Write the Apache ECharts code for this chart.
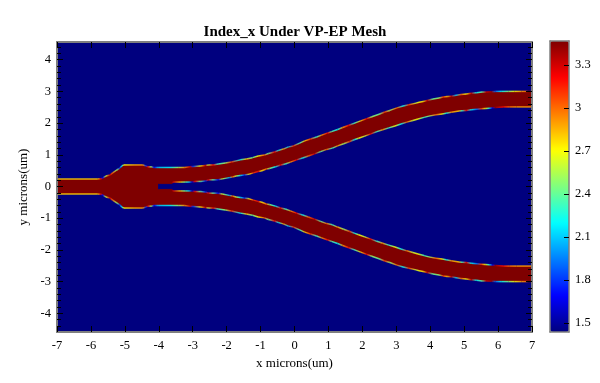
<!DOCTYPE html>
<html>
<head>
<meta charset="utf-8">
<script src="https://cdn.jsdelivr.net/npm/echarts@6/dist/echarts.min.js"></script>
<style>
	html, body { margin: 0; padding: 0; background: #fff; }
	#chart { width: 600px; height: 383px; }
</style>
</head>
<body>
<div id="chart"></div>
<script>
// upper arm outer edge: x, y (um) and index along the edge
var outerX = [-7, -5.80, -5.71, -5.65, -5.56, -5.44, -5.36, -5.24, -5.15, -5.09, -5.03, -4.73, -4.47, -4.38, -4.32, -4.23, -4.14, -4.02, -3.67, -3.43, -3.25, -3.08, -2.99, -2.78, -2.63, -2.54, -2.40, -2.25, -2.04, -1.86, -1.60, -1.42, -1.24, -1.07, -0.89, -0.77, -0.59, -0.47, -0.33, -0.18, -0.03, 0.15, 0.30, 0.47, 0.65, 0.80, 0.98, 1.09, 1.27, 1.42, 1.60, 1.75, 1.95, 2.13, 2.28, 2.49, 2.66, 2.81, 3.02, 3.20, 3.37, 3.58, 3.67, 3.79, 3.91, 4.08, 4.26, 4.38, 4.50, 4.62, 4.76, 4.91, 5.06, 5.21, 5.36, 5.53, 5.65, 5.80, 5.92, 6.09, 6.30, 6.48, 6.69, 6.83, 6.89, 7];
var outerY = [0.24, 0.24, 0.24, 0.27, 0.33, 0.36, 0.43, 0.52, 0.58, 0.65, 0.68, 0.68, 0.68, 0.65, 0.62, 0.62, 0.60, 0.60, 0.60, 0.60, 0.60, 0.62, 0.63, 0.65, 0.66, 0.68, 0.68, 0.71, 0.74, 0.77, 0.84, 0.87, 0.91, 0.96, 0.99, 1.04, 1.09, 1.14, 1.18, 1.25, 1.28, 1.37, 1.44, 1.50, 1.56, 1.62, 1.69, 1.73, 1.80, 1.86, 1.93, 1.99, 2.07, 2.14, 2.20, 2.28, 2.35, 2.40, 2.48, 2.54, 2.58, 2.63, 2.66, 2.68, 2.71, 2.76, 2.79, 2.82, 2.84, 2.85, 2.88, 2.90, 2.92, 2.94, 2.96, 2.98, 2.98, 2.99, 3.00, 3.00, 3.00, 3.00, 3.00, 3.00, 3.00, 3.00];
var outerIndex = [2.8, 2.8, 3.2, 1.7, 2.6, 3.3, 3.0, 2.5, 1.8, 2.2, 2.7, 2.85, 2.9, 1.8, 3.2, 2.5, 1.7, 2.1, 2.2, 2.5, 2.9, 3.3, 1.8, 2.7, 3.3, 2.6, 3.2, 2.3, 2.5, 3.1, 2.2, 2.8, 2.4, 2.7, 3.0, 2.4, 3.2, 2.2, 2.9, 2.1, 3.1, 2.3, 2.8, 3.1, 2.3, 2.9, 3.2, 2.4, 2.2, 2.9, 3.2, 2.3, 2.8, 3.2, 2.5, 2.4, 3.1, 2.5, 3.0, 2.2, 3.1, 2.6, 2.7, 2.75, 3.3, 2.4, 2.5, 3.1, 2.8, 3.3, 2.1, 3.0, 2.7, 3.3, 2.2, 2.4, 3.3, 3.4, 1.9, 2.2, 2.45, 2.7, 2.9, 3.0, 3.47, 3.47];

// upper arm inner edge, starting at the notch
var innerX = [-4.02, -3.61, -3.58, -3.37, -3.22, -3.11, -3.02, -2.93, -2.78, -2.63, -2.54, -2.40, -2.25, -2.13, -1.92, -1.83, -1.72, -1.60, -1.48, -1.33, -1.21, -1.07, -0.98, -0.83, -0.74, -0.56, -0.41, -0.27, -0.12, 0.06, 0.24, 0.41, 0.59, 0.77, 0.95, 1.12, 1.27, 1.45, 1.63, 1.78, 1.89, 2.07, 2.25, 2.43, 2.60, 2.78, 2.96, 3.14, 3.31, 3.49, 3.64, 3.82, 3.96, 4.17, 4.35, 4.47, 4.62, 4.85, 4.94, 5.06, 5.21, 5.38, 5.50, 5.62, 5.74, 5.83, 5.92, 6.15, 6.33, 6.54, 7];
var innerY = [0.10, 0.10, 0.14, 0.14, 0.14, 0.14, 0.14, 0.16, 0.16, 0.17, 0.21, 0.21, 0.21, 0.24, 0.28, 0.30, 0.33, 0.35, 0.36, 0.39, 0.43, 0.47, 0.49, 0.55, 0.57, 0.62, 0.68, 0.71, 0.77, 0.84, 0.90, 0.96, 1.03, 1.10, 1.17, 1.21, 1.28, 1.35, 1.42, 1.48, 1.52, 1.59, 1.66, 1.73, 1.79, 1.85, 1.91, 1.97, 2.03, 2.08, 2.13, 2.18, 2.22, 2.26, 2.29, 2.31, 2.34, 2.38, 2.39, 2.40, 2.42, 2.44, 2.45, 2.46, 2.47, 2.48, 2.49, 2.51, 2.51, 2.51, 2.51];
var innerIndex = [3.47, 3.47, 3.3, 2.8, 2.4, 2.1, 1.6, 3.2, 2.4, 1.8, 3.2, 2.4, 1.7, 2.6, 2.1, 3.0, 2.6, 2.2, 1.8, 2.7, 3.1, 3.2, 2.7, 3.0, 2.5, 2.2, 3.2, 2.3, 2.9, 3.2, 2.2, 3.0, 3.3, 2.4, 3.0, 2.3, 2.9, 2.5, 3.1, 2.2, 2.7, 2.6, 3.2, 2.3, 2.9, 2.3, 2.7, 2.2, 3.0, 2.6, 2.7, 2.3, 2.5, 3.0, 2.7, 2.2, 2.9, 2.8, 2.3, 3.2, 2.2, 1.9, 3.1, 2.7, 2.2, 1.7, 3.4, 3.2, 3.0, 2.9, 2.9];

var xTicks = [-7, -6, -5, -4, -3, -2, -1, 0, 1, 2, 3, 4, 5, 6, 7];
var yTicks = [-4, -3, -2, -1, 0, 1, 2, 3, 4];
var yMinorTicks = [-4.4, -4.2, -3.8, -3.6, -3.4, -3.2, -2.8, -2.6, -2.4, -2.2, -1.8, -1.6, -1.4, -1.2, -0.8, -0.6, -0.4, -0.2, 0.2, 0.4, 0.6, 0.8, 1.2, 1.4, 1.6, 1.8, 2.2, 2.4, 2.6, 2.8, 3.2, 3.4, 3.6, 3.8, 4.2, 4.4];
var colorbarTicks = [1.5, 1.8, 2.1, 2.4, 2.7, 3, 3.3];
var indexMin = 1.437;
var indexMax = 3.467;
var jetColors = ['#00007f', '#0000ff', '#007fff', '#00ffff', '#7fff7f', '#ffff00', '#ff7f00', '#ff0000', '#7f0000'];

var serif = 'Liberation Serif';
var yMin = -4.59;
var yMax = 4.558;

function indexColor(value) {
	var t = (value - indexMin) / (indexMax - indexMin);
	return echarts.color.lerp(Math.max(0, Math.min(1, t)), jetColors);
}

// one row per edge piece: x0, y0, x1, y1, index0, index1
function edgeRows(xs, ys, index) {
	var rows = [];
	for(var i = 0; i < xs.length - 1; i++) {
		rows.push([xs[i], ys[i], xs[i + 1], ys[i + 1], index[i], index[i + 1]]);
		rows.push([xs[i], -ys[i], xs[i + 1], -ys[i + 1], index[i], index[i + 1]]);
	}
	return rows;
}

function renderEdge(params, api) {
	var a = api.coord([api.value(0), api.value(1)]);
	var b = api.coord([api.value(2), api.value(3)]);
	return {
		type: 'line',
		shape: { x1: a[0], y1: a[1], x2: b[0], y2: b[1] },
		style: {
			fill: null,
			lineWidth: 1.5,
			opacity: 0.85,
			stroke: new echarts.graphic.LinearGradient(a[0], a[1], b[0], b[1], [
				{ offset: 0, color: indexColor(api.value(4)) },
				{ offset: 1, color: indexColor(api.value(5)) }
			], true)
		}
	};
}

// the whole splitter is one outline: upper arm, notch, lower arm
function renderGuide(params, api) {
	var points = [];
	var i;
	for(i = 0; i < outerX.length; i++) points.push(api.coord([outerX[i], outerY[i]]));
	for(i = innerX.length - 1; i >= 0; i--) points.push(api.coord([innerX[i], innerY[i]]));
	for(i = 0; i < innerX.length; i++) points.push(api.coord([innerX[i], -innerY[i]]));
	for(i = outerX.length - 1; i >= 0; i--) points.push(api.coord([outerX[i], -outerY[i]]));
	return {
		type: 'polygon',
		shape: { points: points },
		style: { fill: indexColor(indexMax) }
	};
}

function frameX(position, ticks, showLabels, name) {
	return {
		type: 'value',
		gridIndex: 0,
		position: position,
		min: -7,
		max: 7,
		z: 5,
		name: name,
		nameLocation: 'middle',
		nameGap: 22,
		nameTextStyle: { fontFamily: serif, fontSize: 13, color: '#000' },
		splitLine: { show: false },
		axisLine: { onZero: false, lineStyle: { color: '#7f7f7f', width: 2 } },
		axisTick: { inside: true, length: 6, customValues: ticks, lineStyle: { color: '#000' } },
		axisLabel: { show: showLabels, customValues: ticks, margin: 7, fontFamily: serif, fontSize: 12.5, color: '#000' }
	};
}

function frameY(position, ticks, length, showLabels, name) {
	return {
		type: 'value',
		gridIndex: 0,
		position: position,
		min: yMin,
		max: yMax,
		z: 5,
		name: name,
		nameLocation: 'middle',
		nameGap: 12,
		nameTextStyle: { fontFamily: serif, fontSize: 13, color: '#000' },
		splitLine: { show: false },
		axisLine: { onZero: false, lineStyle: { color: '#7f7f7f', width: 2 } },
		axisTick: { inside: true, length: length, customValues: ticks, lineStyle: { color: '#000' } },
		axisLabel: { show: showLabels, customValues: ticks, margin: 6, fontFamily: serif, fontSize: 12.5, color: '#000' }
	};
}

var mychart = echarts.init(document.getElementById('chart'));
var option = {
	animation: false,
	backgroundColor: '#fff',
	title: {
		text: 'Index_x Under VP-EP Mesh',
		left: 290,
		top: 20,
		textAlign: 'center',
		textStyle: { fontFamily: serif, fontSize: 15, fontWeight: 'bold', color: '#000' }
	},
	grid: [
		{ left: 57, top: 42, width: 475, height: 290, show: true, backgroundColor: indexColor(indexMin), borderWidth: 0 },
		{ left: 550, top: 41, width: 19, height: 291, show: false }
	],
	xAxis: [
		frameX('bottom', xTicks, true, 'x microns(um)'),
		frameX('top', xTicks, false, ''),
		{
			type: 'value',
			gridIndex: 1,
			position: 'bottom',
			min: 0,
			max: 1,
			z: 5,
			splitLine: { show: false },
			axisTick: { show: false },
			axisLabel: { show: false },
			axisLine: { lineStyle: { color: '#7f7f7f', width: 1.5 } }
		},
		{
			type: 'value',
			gridIndex: 1,
			position: 'top',
			min: 0,
			max: 1,
			z: 5,
			splitLine: { show: false },
			axisTick: { show: false },
			axisLabel: { show: false },
			axisLine: { lineStyle: { color: '#7f7f7f', width: 1.5 } }
		}
	],
	yAxis: [
		frameY('left', yTicks, 6, true, 'y microns(um)'),
		frameY('right', yTicks, 6, false, ''),
		frameY('left', yMinorTicks, 4, false, ''),
		frameY('right', yMinorTicks, 4, false, ''),
		{
			type: 'value',
			gridIndex: 1,
			position: 'left',
			min: indexMin,
			max: indexMax,
			z: 5,
			splitLine: { show: false },
			axisTick: { show: false },
			axisLabel: { show: false },
			axisLine: { onZero: false, lineStyle: { color: '#7f7f7f', width: 1.5 } }
		},
		{
			type: 'value',
			gridIndex: 1,
			position: 'right',
			min: indexMin,
			max: indexMax,
			z: 5,
			splitLine: { show: false },
			axisTick: { inside: true, length: 5, customValues: colorbarTicks, lineStyle: { color: '#000' } },
			axisLabel: { customValues: colorbarTicks, margin: 6, fontFamily: serif, fontSize: 12.5, color: '#000' },
			axisLine: { onZero: false, lineStyle: { color: '#7f7f7f', width: 1.5 } }
		}
	],
	visualMap: {
		type: 'continuous',
		seriesIndex: 1,
		dimension: 4,
		min: indexMin,
		max: indexMax,
		calculable: false,
		hoverLink: false,
		left: 550,
		top: 41,
		padding: 0,
		itemWidth: 19,
		itemHeight: 291,
		text: null,
		showLabel: false,
		z: 1,
		inRange: { color: jetColors }
	},
	series: [{
		name: 'guide',
		type: 'custom',
		coordinateSystem: 'cartesian2d',
		xAxisIndex: 0,
		yAxisIndex: 0,
		z: 2,
		silent: true,
		data: [[0, 0]],
		renderItem: renderGuide
	}, {
		name: 'edge',
		type: 'custom',
		coordinateSystem: 'cartesian2d',
		xAxisIndex: 0,
		yAxisIndex: 0,
		z: 3,
		silent: true,
		data: edgeRows(outerX, outerY, outerIndex).concat(edgeRows(innerX, innerY, innerIndex)),
		renderItem: renderEdge
	}]
};
mychart.setOption(option);
</script>
</body>
</html>
